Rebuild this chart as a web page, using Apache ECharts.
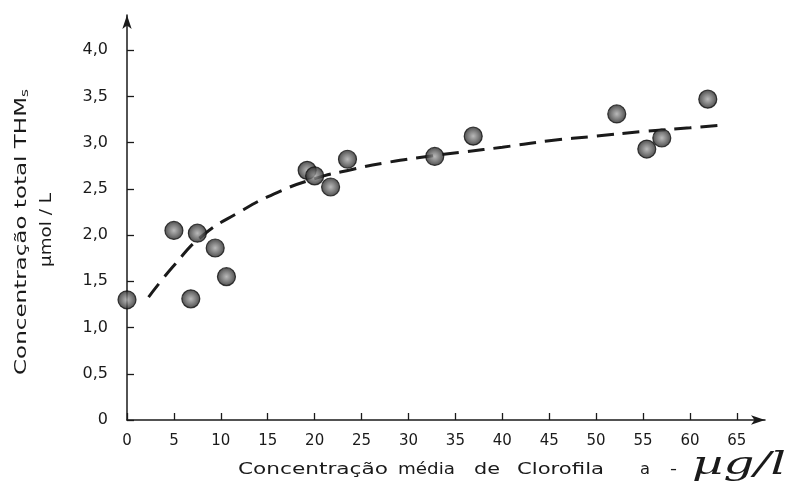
<!DOCTYPE html>
<html>
<head>
<meta charset="utf-8">
<script src="https://cdn.jsdelivr.net/npm/echarts@6/dist/echarts.min.js"></script>
<style>html,body{margin:0;padding:0;background:#fff}#c{width:800px;height:500px}</style>
</head>
<body>
<div id="c"></div>
<script>
// Observed points
const chlorophyll = [0, 5, 7.5, 6.8, 9.4, 10.6, 19.2, 20.0, 21.7, 23.5, 32.8, 36.9, 52.2, 55.4, 57.0, 61.9];
const thms = [1.30, 2.05, 2.02, 1.31, 1.86, 1.55, 2.70, 2.64, 2.52, 2.82, 2.85, 3.07, 3.31, 2.93, 3.05, 3.47];
// Fitted (dashed) curve
const curveX = [2.3, 5, 8, 12, 16, 20, 24, 28, 32, 36, 40, 45, 50, 55, 60, 63.5];
const curveY = [1.33, 1.67, 1.99, 2.25, 2.46, 2.61, 2.71, 2.79, 2.85, 2.90, 2.95, 3.02, 3.07, 3.12, 3.16, 3.19];
// Tick labels
const xTicks = [0, 5, 10, 15, 20, 25, 30, 35, 40, 45, 50, 55, 60, 65];
const yTicks = [0, 0.5, 1.0, 1.5, 2.0, 2.5, 3.0, 3.5, 4.0];

const FONT = '"DejaVu Sans", sans-serif';
const INK = '#1a1a1a';

const chart = echarts.init(document.getElementById('c'), null, {renderer: 'canvas'});

const pts = chlorophyll.map((x, i) => [x, thms[i]]);
const curve = curveX.map((x, i) => [x, curveY[i]]);

const ctx = document.createElement('canvas').getContext('2d');
function widthOf(text, font) { ctx.font = font; return ctx.measureText(text).width; }

// word, left edge, right edge (horizontal title)
function word(text, x0, x1, cy, font) {
  font = font || ('15px ' + FONT);
  const s = (x1 - x0) / widthOf(text, font);
  return {type: 'text', x: x0, y: cy, scaleX: s,
    style: {text: text, font: font, fill: INK, align: 'left', verticalAlign: 'middle'}};
}
// rotated text spanning from bottom y0 to top y1, centred at x
function vword(text, cx, y0, y1, font, rich) {
  const s = (y0 - y1) / widthOf(text.replace(/\{s\|s\}/, 's'), font);
  return {type: 'text', x: cx, y: (y0 + y1) / 2, rotation: Math.PI / 2, scaleX: s,
    style: {text: text, font: font, fill: INK, align: 'center', verticalAlign: 'middle', rich: rich}};
}

chart.setOption({
  animation: false,
  backgroundColor: '#fff',
  grid: {left: 127, right: 35, top: 15, bottom: 80, containLabel: false},
  xAxis: {
    type: 'value', min: 0, max: 68,
    axisLine: {show: true, lineStyle: {color: INK, width: 1.5}, symbol: ['none', 'arrow'], symbolSize: [7, 14]},
    axisTick: {show: true, inside: true, length: 7, customValues: xTicks, lineStyle: {color: INK, width: 1.3}},
    axisLabel: {customValues: xTicks, margin: 14, fontSize: 15, fontFamily: FONT, color: INK},
    splitLine: {show: false}
  },
  yAxis: {
    type: 'value', min: 0, max: 4.38,
    axisLine: {show: true, lineStyle: {color: INK, width: 1.5}, symbol: ['none', 'arrow'], symbolSize: [7, 14]},
    axisTick: {show: true, inside: true, length: 7, customValues: yTicks, lineStyle: {color: INK, width: 1.3}},
    axisLabel: {
      customValues: yTicks, margin: 19, fontSize: 16, fontFamily: FONT, color: INK,
      formatter: v => v === 0 ? '0' : v.toFixed(1).replace('.', ',')
    },
    splitLine: {show: false}
  },
  series: [
    {
      type: 'line', data: curve, showSymbol: false, smooth: 0.5, z: 2,
      lineStyle: {color: INK, width: 3, type: [17, 9]}
    },
    {
      type: 'scatter', data: pts, symbolSize: 18, z: 3,
      itemStyle: {
        color: {type: 'radial', x: 0.5, y: 0.5, r: 0.5, colorStops: [
          {offset: 0, color: '#a8a8a8'}, {offset: 0.55, color: '#5e5e5e'}, {offset: 1, color: '#1e1e1e'}
        ]},
        borderColor: '#111', borderWidth: 1.2
      }
    }
  ],
  graphic: [
    vword('Concentração total THM{s|s}', 22, 377, 87, '15px ' + FONT,
      {s: {fontSize: 10, fontFamily: 'DejaVu Sans', padding: [7, 0, 0, 0]}}),
    vword('µmol / L', 47, 267, 193, '15px ' + FONT),
    word('Concentração', 238, 388, 470),
    word('média', 398, 455, 470),
    word('de', 474, 500, 470),
    word('Clorofila', 517, 604, 470),
    word('a', 640, 650, 470),
    word('-', 670, 677, 470),
    word('µg/l', 692, 786, 466, 'italic 32px "DejaVu Serif", serif')
  ]
});
</script>
</body>
</html>
